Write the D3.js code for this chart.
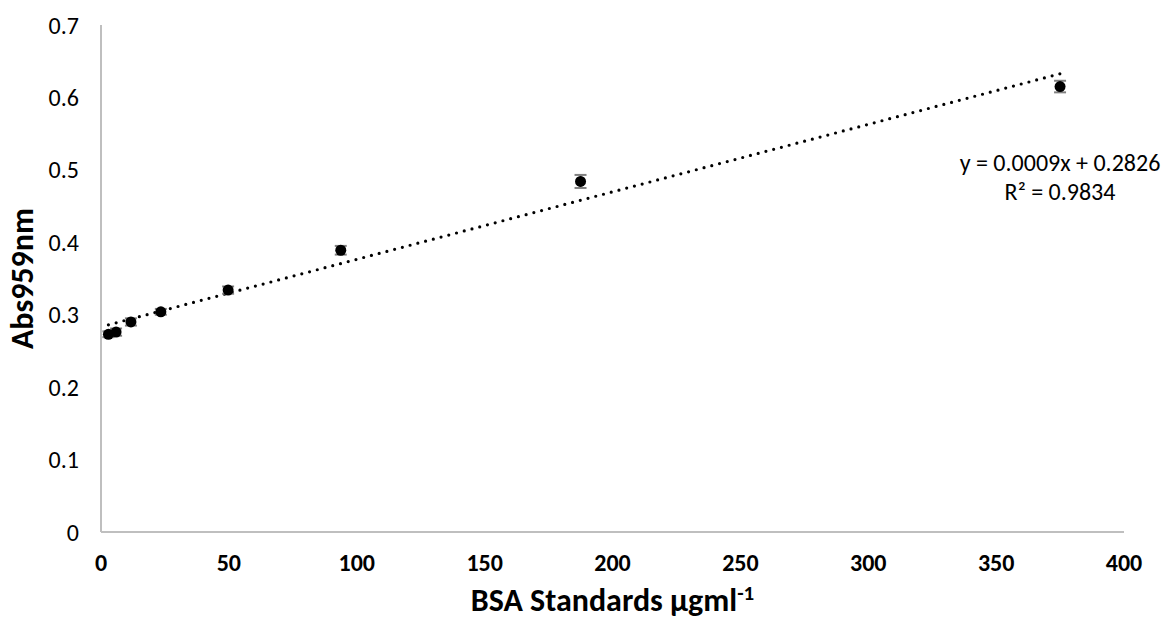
<!DOCTYPE html>
<html>
<head>
<meta charset="utf-8">
<script src="https://cdn.jsdelivr.net/npm/d3@7"></script>
<style>
  html, body { margin: 0; padding: 0; background: #fff; }
  svg { display: block; font-family: Carlito, Lato, "Noto Sans", sans-serif; }
</style>
</head>
<body>
<svg id="chart" width="1164" height="619"></svg>
<script>
// BSA standard concentrations (µg/ml) and mean absorbance at 959 nm
const concentrations = [2.9, 5.9, 11.7, 23.4, 49.7, 93.75, 187.5, 375];
const absorbance     = [0.273, 0.276, 0.290, 0.304, 0.334, 0.389, 0.484, 0.615];
const absError       = [0.004, 0.005, 0.005, 0.004, 0.005, 0.006, 0.009, 0.008];
const xTicks = [0, 50, 100, 150, 200, 250, 300, 350, 400];
const yTicks = [0, 0.1, 0.2, 0.3, 0.4, 0.5, 0.6, 0.7];
const equationLines = ["y = 0.0009x + 0.2826", "R² = 0.9834"];

const svg = d3.select("#chart");
const margin = { left: 101, right: 40, top: 25, bottom: 87 };
const W = 1164, H = 619;

const x = d3.scaleLinear().domain([0, 400]).range([margin.left, W - margin.right]);
const y = d3.scaleLinear().domain([0, 0.7]).range([H - margin.bottom, margin.top]);

const points = concentrations.map((c, i) => ({ x: c, y: absorbance[i], e: absError[i] }));

// Axis lines (no tick marks, light grey)
const axisColor = "#bfbfbf";
svg.append("line")
  .attr("x1", x(0)).attr("x2", x(0))
  .attr("y1", y(0.7)).attr("y2", y(0))
  .attr("stroke", axisColor).attr("stroke-width", 2);
svg.append("line")
  .attr("x1", x(0)).attr("x2", x(400))
  .attr("y1", y(0)).attr("y2", y(0))
  .attr("stroke", axisColor).attr("stroke-width", 2);

// Y tick labels
svg.append("g").selectAll("text").data(yTicks).join("text")
  .attr("x", x(0) - 22)
  .attr("y", d => y(d))
  .attr("dy", "0.36em")
  .attr("text-anchor", "end")
  .attr("font-size", 24)
  .attr("fill", "#000")
  .text(d => d === 0 ? "0" : d3.format(".1f")(d));

// X tick labels (bold)
svg.append("g").selectAll("text").data(xTicks).join("text")
  .attr("x", d => x(d))
  .attr("y", y(0) + 39)
  .attr("text-anchor", "middle")
  .attr("font-size", 24)
  .attr("font-weight", "bold")
  .attr("fill", "#000")
  .text(d => d);

// Axis titles
const xTitle = svg.append("text")
  .attr("x", (x(0) + x(400)) / 2)
  .attr("y", 611)
  .attr("text-anchor", "middle")
  .attr("font-size", 32)
  .attr("font-weight", "bold")
  .attr("fill", "#000");
xTitle.append("tspan").text("BSA Standards µgml");
xTitle.append("tspan").attr("font-size", 21).attr("dy", -11).text("-1");

svg.append("text")
  .attr("transform", `translate(33, ${(y(0) + y(0.7)) / 2}) rotate(-90)`)
  .attr("text-anchor", "middle")
  .attr("font-size", 32)
  .attr("font-weight", "bold")
  .attr("fill", "#000")
  .text("Abs959nm");

// Linear least-squares trendline across the data range
const mx = d3.mean(points, d => d.x), my = d3.mean(points, d => d.y);
const sxy = d3.sum(points, d => (d.x - mx) * (d.y - my));
const sxx = d3.sum(points, d => (d.x - mx) ** 2);
const slope = sxy / sxx, intercept = my - slope * mx;
const xMin = d3.min(concentrations), xMax = d3.max(concentrations);
svg.append("line")
  .attr("x1", x(xMin)).attr("y1", y(intercept + slope * xMin))
  .attr("x2", x(xMax)).attr("y2", y(intercept + slope * xMax))
  .attr("stroke", "#000")
  .attr("stroke-width", 3.2)
  .attr("stroke-linecap", "round")
  .attr("stroke-dasharray", "0 8");

// Error bars
const eb = svg.append("g").attr("stroke", "#808080").attr("stroke-width", 2);
points.forEach(d => {
  eb.append("line").attr("x1", x(d.x)).attr("x2", x(d.x)).attr("y1", y(d.y - d.e)).attr("y2", y(d.y + d.e));
  eb.append("line").attr("x1", x(d.x) - 6).attr("x2", x(d.x) + 6).attr("y1", y(d.y - d.e)).attr("y2", y(d.y - d.e));
  eb.append("line").attr("x1", x(d.x) - 6).attr("x2", x(d.x) + 6).attr("y1", y(d.y + d.e)).attr("y2", y(d.y + d.e));
});

// Markers
svg.append("g").selectAll("circle").data(points).join("circle")
  .attr("cx", d => x(d.x))
  .attr("cy", d => y(d.y))
  .attr("r", 5.5)
  .attr("fill", "#000");

// Regression equation
svg.append("g").selectAll("text").data(equationLines).join("text")
  .attr("x", 1060)
  .attr("y", (d, i) => 171 + i * 29)
  .attr("text-anchor", "middle")
  .attr("font-size", 24)
  .attr("fill", "#000")
  .text(d => d);
</script>
</body>
</html>
